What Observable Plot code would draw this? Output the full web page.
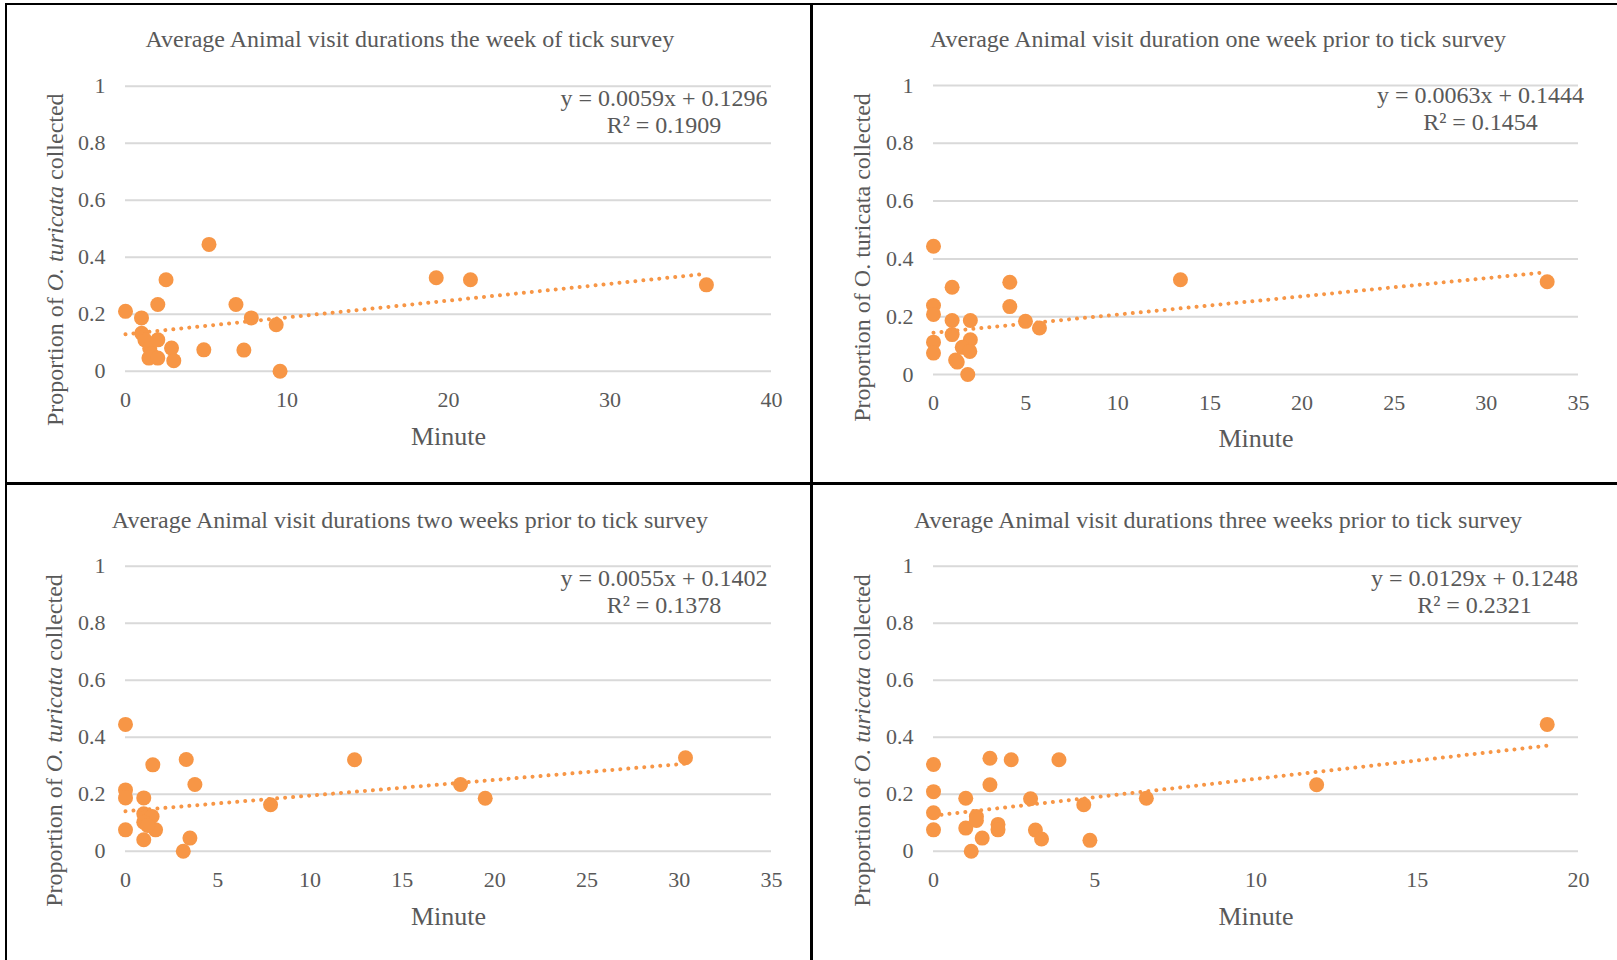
<!DOCTYPE html>
<html>
<head>
<meta charset="utf-8">
<script src="https://cdn.jsdelivr.net/npm/d3@7"></script>
<script src="https://cdn.jsdelivr.net/npm/@observablehq/plot@0.6"></script>
<style>
  html, body { margin: 0; padding: 0; background: #ffffff; }
  #root { position: relative; width: 1617px; height: 960px; overflow: hidden; background: #fff; }
  .panel { position: absolute; }
  .border { position: absolute; background: #000; z-index: 5; }
</style>
</head>
<body>
<div id="root"></div>
<script>
// ---------- data ----------
const yTicks = [0, 0.2, 0.4, 0.6, 0.8, 1];

const titles = [
  "Average Animal visit durations the week of tick survey",
  "Average Animal visit duration one week prior to tick survey",
  "Average Animal visit durations two weeks prior to tick survey",
  "Average Animal visit durations three weeks prior to tick survey"
];
const equations = ["y = 0.0059x + 0.1296", "y = 0.0063x + 0.1444", "y = 0.0055x + 0.1402", "y = 0.0129x + 0.1248"];
const rSquared = ["R² = 0.1909", "R² = 0.1454", "R² = 0.1378", "R² = 0.2321"];
const slopes = [0.0059, 0.0063, 0.0055, 0.0129];
const intercepts = [0.1296, 0.1444, 0.1402, 0.1248];

const xTicks0 = [0, 10, 20, 30, 40];
const xTicks1 = [0, 5, 10, 15, 20, 25, 30, 35];
const xTicks2 = [0, 5, 10, 15, 20, 25, 30, 35];
const xTicks3 = [0, 5, 10, 15, 20];

// week of survey
const minutes0 = [0, 0.99, 1.0, 1.2, 1.5, 1.6, 1.45, 2.0, 2.0, 2.0, 2.51, 2.85, 2.99, 4.85, 5.17, 6.84, 7.33, 7.79, 9.33, 9.57, 19.24, 21.36, 35.97];
const prop0    = [0.21, 0.187, 0.133, 0.11, 0.08, 0.06, 0.046, 0.046, 0.11, 0.234, 0.321, 0.081, 0.037, 0.075, 0.445, 0.234, 0.074, 0.187, 0.163, 0, 0.328, 0.321, 0.303];
// one week prior
const minutes1 = [0, 0, 0, 0, 0, 1.01, 1.01, 1.01, 2.0, 2.0, 1.56, 1.97, 1.29, 1.2, 1.86, 4.14, 4.14, 4.99, 5.75, 13.4, 33.3];
const prop1    = [0.444, 0.239, 0.208, 0.112, 0.074, 0.302, 0.187, 0.138, 0.187, 0.12, 0.094, 0.08, 0.043, 0.05, 0, 0.319, 0.235, 0.184, 0.161, 0.328, 0.321];
// two weeks prior
const minutes2 = [0, 0, 0, 0, 1.48, 0.99, 0.99, 1.44, 0.99, 1.63, 0.99, 1.2, 3.29, 3.76, 3.49, 3.13, 7.86, 12.41, 18.15, 19.49, 30.34];
const prop2    = [0.445, 0.215, 0.187, 0.075, 0.303, 0.187, 0.131, 0.122, 0.102, 0.075, 0.04, 0.09, 0.322, 0.234, 0.046, 0, 0.163, 0.321, 0.234, 0.186, 0.328];
// three weeks prior
const minutes3 = [0, 0, 0, 0, 1.0, 1.0, 1.17, 1.33, 1.33, 1.51, 1.75, 1.75, 2.0, 2.0, 2.41, 3.01, 3.16, 3.35, 3.89, 4.66, 4.85, 6.6, 11.88, 19.03];
const prop3    = [0.304, 0.209, 0.135, 0.075, 0.186, 0.081, 0, 0.122, 0.108, 0.046, 0.326, 0.233, 0.094, 0.075, 0.321, 0.184, 0.074, 0.043, 0.321, 0.163, 0.038, 0.186, 0.233, 0.445];

const yLabelParts = ["Proportion of ", "O. turicata", " collected"];
const yLabelItalic = [true, false, true, true];

// ---------- drawing ----------
const FONT = "'Liberation Serif', 'Times New Roman', Times, serif";
const ORANGE = "#F79646";
const TEXT = "#595959";

function makePanel(o) {
  const pts = o.xs.map((x, i) => ({x, y: o.ys[i]}));
  const xmax = d3.max(o.xs);
  const trend = [0, xmax].map(x => ({x, y: o.slope * x + o.intercept}));
  const label = yLabelParts.join("");
  const svg = Plot.plot({
    width: o.width, height: o.height,
    marginLeft: o.ml, marginRight: o.mr, marginTop: o.mt, marginBottom: o.mb,
    style: {fontFamily: FONT, fontSize: "22px", color: TEXT, background: "transparent", overflow: "visible"},
    x: {domain: [0, o.xTicks[o.xTicks.length - 1]], label: null},
    y: {domain: [0, 1], label: null},
    marks: [
      Plot.gridY(yTicks, {stroke: "#d9d9d9", strokeOpacity: 1, strokeWidth: 2}),
      Plot.axisY(yTicks, {tickSize: 0, tickPadding: 20, tickFormat: d => String(d), label: null, fontSize: 22, fill: TEXT}),
      Plot.axisX(o.xTicks, {tickSize: 0, tickPadding: 20, tickFormat: d => String(d), label: null, fontSize: 22, fill: TEXT}),
      Plot.dot(pts, {x: "x", y: "y", r: 7.5, fill: ORANGE}),
      Plot.line(trend, {x: "x", y: "y", stroke: ORANGE, strokeWidth: 4, strokeDasharray: "0.01 8", strokeLinecap: "round"}),
      Plot.text([o.title], {frameAnchor: "top", lineAnchor: "middle", dx: o.tdx, dy: o.tdy, fontSize: 24, fill: TEXT}),
      Plot.text([o.eq], {frameAnchor: "top-right", lineAnchor: "middle", textAnchor: "middle", dx: o.edx, dy: o.edy1, fontSize: 24, fill: TEXT}),
      Plot.text([o.r2], {frameAnchor: "top-right", lineAnchor: "middle", textAnchor: "middle", dx: o.edx, dy: o.edy2, fontSize: 24, fill: TEXT}),
      Plot.text(["Minute"], {frameAnchor: "bottom", lineAnchor: "middle", dy: o.mdy, fontSize: 26, fill: TEXT}),
      Plot.text([label], {frameAnchor: "left", lineAnchor: "middle", textAnchor: "middle", rotate: -90, dx: o.ldx, dy: o.ldy, fontSize: 24, fill: TEXT})
    ]
  });
  // italic species name inside the y label
  svg.querySelectorAll("text").forEach(t => {
    if (t.textContent === label) {
      t.textContent = "";
      yLabelParts.forEach((part, i) => {
        const ts = document.createElementNS("http://www.w3.org/2000/svg", "tspan");
        ts.textContent = part;
        if (i === 1 && o.italic) ts.setAttribute("font-style", "italic");
        t.appendChild(ts);
      });
    }
  });
  return svg;
}

const panels = [
  {left: 8, top: 6, width: 803, height: 477, ml: 117, mr: 40, mt: 79.7, mb: 112.3,
   xs: minutes0, ys: prop0, xTicks: xTicks0, k: 0, tdx: -38.6, tdy: -46.7, edx: -107.5, edy1: 12, edy2: 39, mdy: 65.5, ldx: -70, ldy: 31},
  {left: 814, top: 6, width: 803, height: 477, ml: 119, mr: 39, mt: 79, mb: 109,
   xs: minutes1, ys: prop1, xTicks: xTicks1, k: 1, tdx: -38, tdy: -46, edx: -98, edy1: 10, edy2: 36.7, mdy: 64, ldx: -71, ldy: 27.5},
  {left: 8, top: 486, width: 803, height: 474, ml: 117, mr: 40, mt: 79.7, mb: 109.3,
   xs: minutes2, ys: prop2, xTicks: xTicks2, k: 2, tdx: -38.6, tdy: -45.7, edx: -107.5, edy1: 11.8, edy2: 39.6, mdy: 65, ldx: -71, ldy: 31.8},
  {left: 814, top: 486, width: 803, height: 474, ml: 119, mr: 39, mt: 79.7, mb: 109.3,
   xs: minutes3, ys: prop3, xTicks: xTicks3, k: 3, tdx: -38, tdy: -45.7, edx: -104, edy1: 11.8, edy2: 39.6, mdy: 65, ldx: -71, ldy: 31.8}
];

const root = document.getElementById("root");
panels.forEach(p => {
  const o = Object.assign({}, p, {
    title: titles[p.k], eq: equations[p.k], r2: rSquared[p.k],
    slope: slopes[p.k], intercept: intercepts[p.k], italic: yLabelItalic[p.k]
  });
  const div = document.createElement("div");
  div.className = "panel";
  div.style.left = p.left + "px";
  div.style.top = p.top + "px";
  div.appendChild(makePanel(o));
  root.appendChild(div);
});

// panel frame lines
[[5, 3, 2, 957], [5, 3, 1612, 2], [810, 3, 3, 957], [5, 482, 1612, 3]].forEach(([l, t, w, h]) => {
  const b = document.createElement("div");
  b.className = "border";
  Object.assign(b.style, {left: l + "px", top: t + "px", width: w + "px", height: h + "px"});
  root.appendChild(b);
});
</script>
</body>
</html>
